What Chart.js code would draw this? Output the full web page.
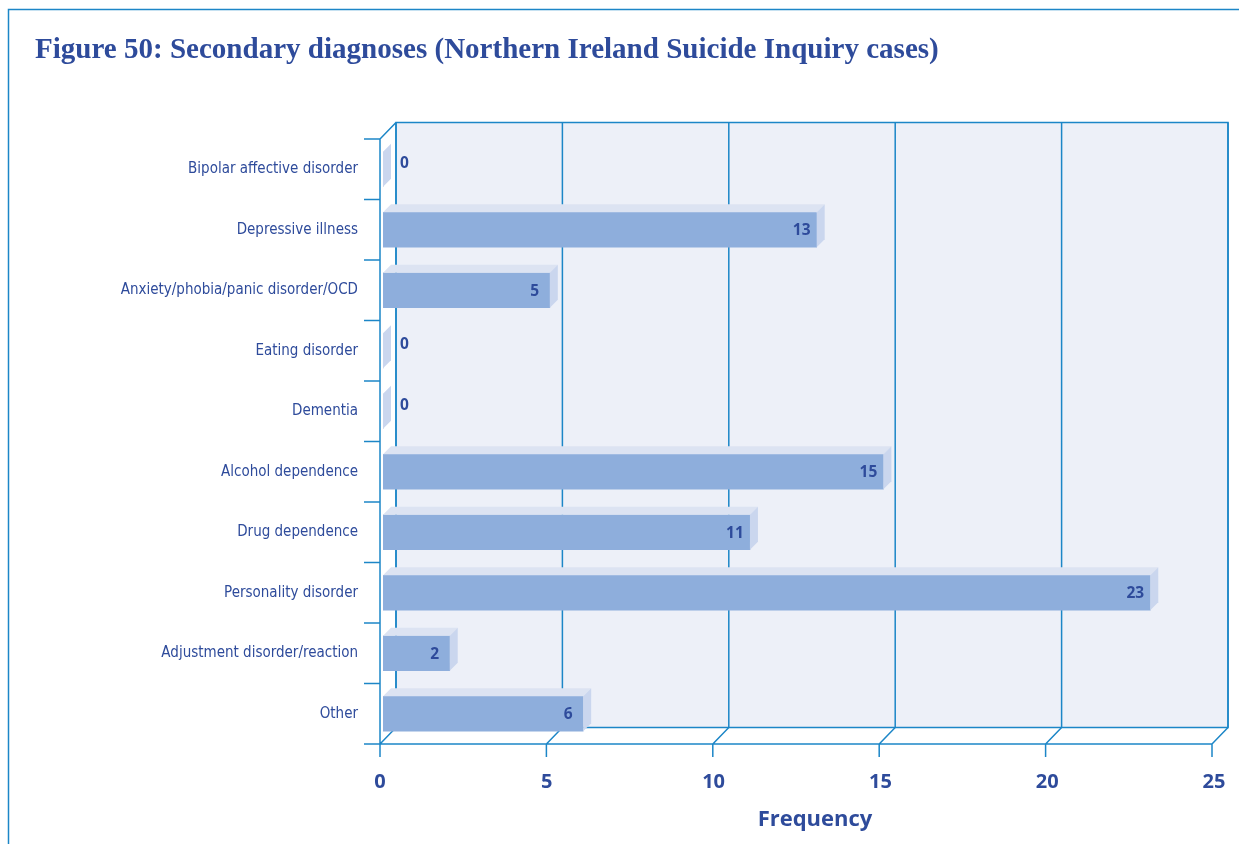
<!DOCTYPE html>
<html>
<head>
<meta charset="utf-8">
<title>Secondary diagnoses</title>
<script src="https://cdn.jsdelivr.net/npm/chart.js@4.4.1/dist/chart.umd.min.js"></script>
<style>
  html, body { margin: 0; padding: 0; background: #ffffff; }
  canvas { display: block; }
</style>
</head>
<body>
<canvas id="chart" width="1239" height="844"></canvas>
<script>
// ---- data ----
const categories = [
  'Bipolar affective disorder',
  'Depressive illness',
  'Anxiety/phobia/panic disorder/OCD',
  'Eating disorder',
  'Dementia',
  'Alcohol dependence',
  'Drug dependence',
  'Personality disorder',
  'Adjustment disorder/reaction',
  'Other'
];
const frequencies = [0, 13, 5, 0, 0, 15, 11, 23, 2, 6];
const tickValues = [0, 5, 10, 15, 20, 25];
const titleText = 'Figure 50: Secondary diagnoses (Northern Ireland Suicide Inquiry cases)';
const axisTitle = 'Frequency';

// ---- styling ----
const INK = '#2e4b9b';
const LINE = '#1c86c7';
const WALL = '#edf0f8';
const BAR_FRONT = '#8eaedc';
const BAR_TOP = '#dce3f2';
const BAR_SIDE = '#cad6ee';
const DX = 16, DY = -16.5;     // depth of the box (front plane -> back wall)
const BAR_DEPTH = 8;           // depth of each bar

// front-plane x position for a value
function frontX(chart, v) {
  const a = chart.chartArea, xs = chart.scales.x;
  const f0 = a.left - 3, f1 = a.right - 5;
  return f0 + (f1 - f0) * (v - xs.min) / (xs.max - xs.min);
}

const boxPlugin = {
  id: 'box3d',
  beforeDraw(chart) {
    const ctx = chart.ctx;
    ctx.save();
    // page frame
    ctx.strokeStyle = LINE;
    ctx.lineWidth = 1.5;
    ctx.beginPath();
    ctx.moveTo(8.5, 844);
    ctx.lineTo(8.5, 9.5);
    ctx.lineTo(1239, 9.5);
    ctx.stroke();
    // title
    ctx.fillStyle = INK;
    ctx.textBaseline = 'alphabetic';
    ctx.textAlign = 'left';
    let size = 28;
    ctx.font = 'bold ' + size + 'px "Liberation Serif", "DejaVu Serif", serif';
    const w = ctx.measureText(titleText).width;
    size = size * 904 / w;
    ctx.font = 'bold ' + size.toFixed(2) + 'px "Liberation Serif", "DejaVu Serif", serif';
    ctx.fillText(titleText, 35, 58);
    ctx.restore();
  },
  beforeDatasetsDraw(chart) {
    const ctx = chart.ctx, a = chart.chartArea;
    const top = a.top, bottom = a.bottom;
    const x0 = frontX(chart, 0), x25 = frontX(chart, tickValues[tickValues.length - 1]);
    ctx.save();
    // back wall
    ctx.fillStyle = WALL;
    ctx.fillRect(x0 + DX, top + DY, x25 - x0, bottom - top);
    ctx.strokeStyle = LINE;
    ctx.lineWidth = 1.5;
    ctx.strokeRect(x0 + DX, top + DY, x25 - x0, bottom - top);
    // grid lines on the back wall, floor diagonals and tick marks
    ctx.beginPath();
    tickValues.forEach(v => {
      const fx = frontX(chart, v);
      ctx.moveTo(fx + DX, top + DY);
      ctx.lineTo(fx + DX, bottom + DY);
      ctx.moveTo(fx, bottom);
      ctx.lineTo(fx + DX, bottom + DY);
      ctx.moveTo(fx, bottom);
      ctx.lineTo(fx, bottom + 13);
    });
    // left axis with category ticks
    ctx.moveTo(x0, top);
    ctx.lineTo(x0, bottom);
    ctx.moveTo(x0, top);
    ctx.lineTo(x0 + DX, top + DY);
    const band = (bottom - top) / categories.length;
    for (let i = 0; i <= categories.length; i++) {
      const y = top + i * band;
      ctx.moveTo(x0 - 16, y);
      ctx.lineTo(x0, y);
    }
    // floor front edge
    ctx.moveTo(x0 - 16, bottom);
    ctx.lineTo(x25, bottom);
    ctx.stroke();
    ctx.restore();
  },
  afterDatasetsDraw(chart) {
    const ctx = chart.ctx;
    const meta = chart.getDatasetMeta(0);
    ctx.save();
    meta.data.forEach((bar, i) => {
      const p = bar.getProps(['x', 'y', 'base', 'height'], true);
      const yt = p.y - p.height / 2, yb = p.y + p.height / 2;
      const d = BAR_DEPTH;
      if (p.x > p.base) {
        ctx.fillStyle = BAR_TOP;
        ctx.beginPath();
        ctx.moveTo(p.base, yt);
        ctx.lineTo(p.x, yt);
        ctx.lineTo(p.x + d, yt - d);
        ctx.lineTo(p.base + d, yt - d);
        ctx.closePath();
        ctx.fill();
      }
      ctx.fillStyle = BAR_SIDE;
      ctx.beginPath();
      ctx.moveTo(p.x, yt);
      ctx.lineTo(p.x + d, yt - d);
      ctx.lineTo(p.x + d, yb - d);
      ctx.lineTo(p.x, yb);
      ctx.closePath();
      ctx.fill();

      // value label
      const v = frequencies[i];
      ctx.fillStyle = INK;
      ctx.font = 'bold 15.5px "Open Sans", "DejaVu Sans", sans-serif';
      ctx.textBaseline = 'middle';
      if (v === 0) {
        ctx.textAlign = 'left';
        ctx.fillText(String(v), p.base + 17, p.y - 6);
      } else {
        ctx.textAlign = 'center';
        ctx.fillText(String(v), p.x - 15, p.y + 1);
      }
    });
    ctx.restore();
  },
  afterDraw(chart) {
    const ctx = chart.ctx;
    ctx.save();
    ctx.fillStyle = INK;
    ctx.font = 'bold 22px "Open Sans", "DejaVu Sans", sans-serif';
    ctx.textAlign = 'center';
    ctx.textBaseline = 'alphabetic';
    ctx.fillText(axisTitle, 815, 826);
    ctx.restore();
  }
};

new Chart(document.getElementById('chart'), {
  type: 'bar',
  data: {
    labels: categories,
    datasets: [{
      data: frequencies,
      backgroundColor: BAR_FRONT,
      borderWidth: 0,
      barThickness: 35
    }]
  },
  options: {
    indexAxis: 'y',
    responsive: false,
    animation: false,
    devicePixelRatio: 1,
    layout: { padding: { top: 139, right: 22, left: 0, bottom: 0 } },
    plugins: {
      legend: { display: false },
      tooltip: { enabled: false },
      title: { display: false }
    },
    scales: {
      x: {
        min: 0,
        max: 25,
        grid: { display: false, drawTicks: false },
        border: { display: false },
        afterBuildTicks(scale) {
          scale.ticks = tickValues.map(v => ({ value: v }));
        },
        afterFit(scale) {
          scale.height = 100;
          scale.paddingLeft = 0;
          scale.paddingRight = 0;
        },
        ticks: {
          color: INK,
          padding: 26,
          labelOffset: -3,
          maxRotation: 0,
          font: { family: '"Open Sans", "DejaVu Sans", sans-serif', size: 20, weight: 'bold' }
        }
      },
      y: {
        grid: { display: false, drawTicks: false },
        border: { display: false },
        afterFit(scale) {
          scale.width = 383;
          scale.paddingTop = 0;
          scale.paddingBottom = 0;
        },
        ticks: {
          color: INK,
          padding: 25,
          font: { family: '"Liberation Sans Narrow", "DejaVu Sans Condensed", sans-serif', size: 15 }
        }
      }
    }
  },
  plugins: [boxPlugin]
});
</script>
</body>
</html>
